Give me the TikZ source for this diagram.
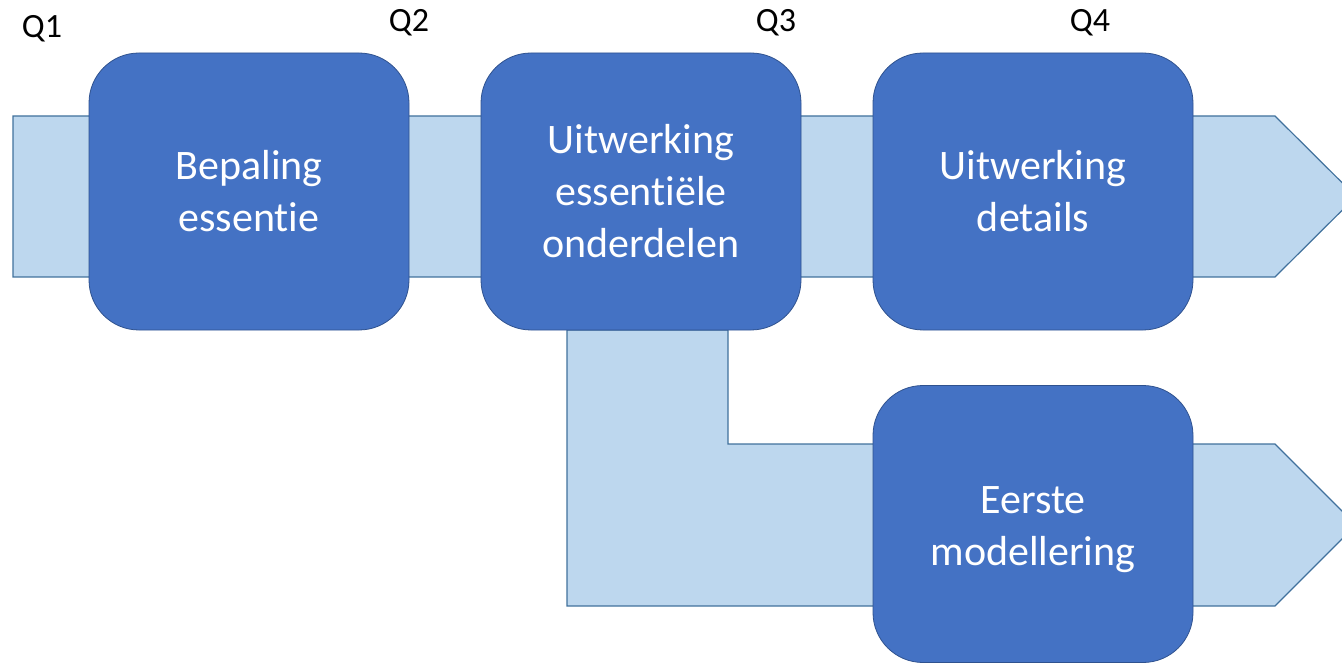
\documentclass[tikz,border=0pt]{standalone}
\usepackage{fontspec}
\setmainfont{Carlito}[Ligatures={NoCommon,NoRequired,NoContextual}]
\usepackage{tikz}
\usetikzlibrary{positioning}

\definecolor{phaseblue}{HTML}{4472C4}
\definecolor{phaseline}{HTML}{2F528F}
\definecolor{bandfill}{HTML}{BDD7EE}
\definecolor{bandline}{HTML}{41719C}

\tikzset{
  phase/.style={rectangle, rounded corners=50pt, fill=phaseblue, draw=phaseline,
    line width=0.8pt, minimum width=320pt, minimum height=277pt, inner sep=0pt,
    text=white, align=center, font=\fontsize{42}{52}\selectfont},
  band/.style={fill=bandfill, draw=bandline, line width=1.2pt, line join=miter},
  quarter/.style={font=\fontsize{34}{40}\selectfont, inner sep=0pt}
}

\begin{document}
\begin{tikzpicture}[x=1pt,y=-1pt,node distance=392pt,on grid]
  \useasboundingbox (0,0) rectangle (1342,663);
  % banden
  \path[band] (13,116) -- (1275,116) -- (1356,196.5) -- (1275,277) -- (13,277) -- cycle;
  \path[band] (567,330) -- (728,330) -- (728,444) -- (1275,444) -- (1356,525)
    -- (1275,606) -- (567,606) -- cycle;
  % fasen
  \node[phase] (essentie)   at (249,191.5)         {Bepaling\\essentie};
  \node[phase] (onderdelen) [right=of essentie]    {Uitwerking\\essentiële\\onderdelen};
  \node[phase] (details)    [right=of onderdelen]  {Uitwerking\\details};
  \node[phase] (model)      [below=332.5pt of details] {\\[-13pt]Eerste\\modellering};
  % kwartalen
  \node[quarter] (q1) at (42,29)   {Q1};
  \node[quarter] (q2) at (409,23)  {Q2};
  \node[quarter] (q3) at (776,23)  {Q3};
  \node[quarter] (q4) at (1090,23) {Q4};
\end{tikzpicture}
\end{document}
